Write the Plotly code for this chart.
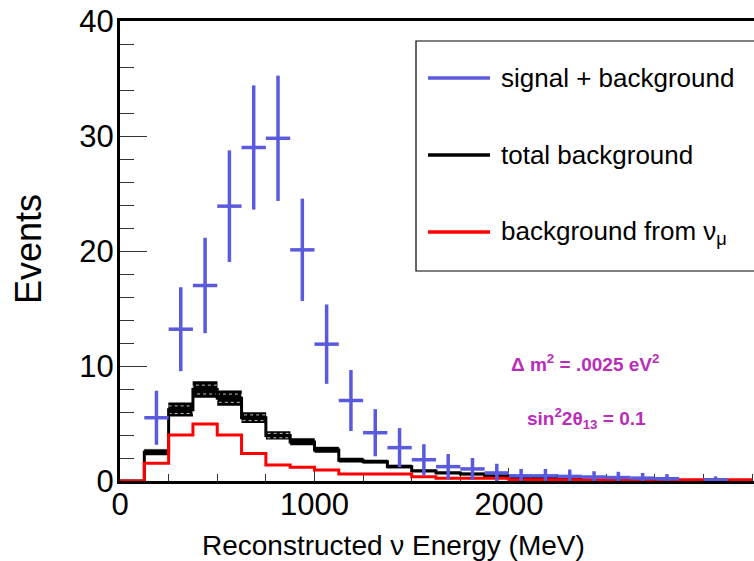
import plotly.graph_objects as go

# ---- data ----
bin_edges = [0, 125, 250, 375, 500, 625, 750, 875, 1000, 1125, 1250, 1375, 1500,
             1625, 1750, 1875, 2000, 2125, 2250, 2375, 2500, 2625, 2750, 2875,
             3000, 3125, 3250]

total_bg = [0, 2.5, 6.2, 7.95, 7.2, 5.5, 3.95, 3.4, 2.7, 1.8, 1.68, 1.25, 0.88,
            0.7, 0.6, 0.45, 0.3, 0.25, 0.15, 0, 0, 0, 0, 0, 0, 0]
total_bg_err = [0, 0.25, 0.6, 0.7, 0.65, 0.45, 0.35, 0.3, 0.25, 0.2, 0.15, 0.15,
                0.1, 0.1, 0.1, 0.05, 0.05, 0.05, 0.05, 0, 0, 0, 0, 0, 0, 0]
numu_bg = [0, 1.55, 4.0, 4.95, 4.0, 2.4, 1.4, 1.2, 0.95, 0.6, 0.6, 0.6, 0.37,
           0.25, 0.25, 0.25, 0.1, 0.1, 0.1, 0.1, 0.1, 0.1, 0.1, 0.1, 0.1, 0.1]

sig_centers = [187.5, 312.5, 437.5, 562.5, 687.5, 812.5, 937.5, 1062.5, 1187.5,
               1312.5, 1437.5, 1562.5, 1687.5, 1812.5, 1937.5, 2062.5, 2187.5,
               2312.5, 2437.5, 2562.5, 2687.5, 2812.5, 3062.5]
sig_values = [5.5, 13.2, 17.0, 23.9, 29.0, 29.8, 20.1, 11.9, 7.0, 4.2, 2.9, 1.85,
              1.25, 1.05, 0.7, 0.45, 0.45, 0.4, 0.35, 0.3, 0.25, 0.2, 0.1]
sig_errors = [2.35, 3.65, 4.15, 4.85, 5.4, 5.45, 4.45, 3.45, 2.65, 2.05, 1.7, 1.35,
              1.1, 0.95, 0.8, 0.6, 0.6, 0.6, 0.5, 0.5, 0.45, 0.4, 0.3]
sig_halfwidth = [62.5] * len(sig_centers)

x_tick_vals = [0, 1000, 2000]
x_tick_text = ["0", "1000", "2000"]

legend_labels = ["signal + background", "total background",
                 "background from ν<sub>μ</sub>"]
ann_dm2 = "<b>Δ m<sup>2</sup> = .0025 eV<sup>2</sup></b>"
ann_sin = "<b>sin<sup>2</sup>2θ<sub>13</sub> = 0.1</b>"

BLUE = "rgb(90,90,222)"
RED = "rgb(255,0,0)"
MAGENTA = "rgb(185,45,185)"
FONT = "Liberation Sans, Arial, Helvetica, sans-serif"

W, H = 754, 561
ML, MR, MT, MB = 120, 0, 21, 80
PW, PH = W - ML - MR, H - MT - MB


def px(x):
    return (x - ML) / PW


def py(y):
    return (H - MB - y) / PH


def step_y(vals):
    return list(vals) + [vals[-1]]


upper = [v + e for v, e in zip(total_bg, total_bg_err)]
lower = [v - e for v, e in zip(total_bg, total_bg_err)]
hatch_hi = [v + 0.55 * e if e >= 0.3 else None for v, e in zip(total_bg, total_bg_err)]
hatch_lo = [v - 0.55 * e if e >= 0.3 else None for v, e in zip(total_bg, total_bg_err)]

fig = go.Figure()
fig.add_trace(go.Scatter(x=bin_edges, y=step_y(lower), mode="lines",
                         line=dict(width=0, shape="hv", color="black"),
                         showlegend=False, hoverinfo="skip"))
fig.add_trace(go.Scatter(x=bin_edges, y=step_y(upper), mode="lines",
                         line=dict(width=0.5, shape="hv", color="black"),
                         fill="tonexty", fillcolor="black",
                         showlegend=False, hoverinfo="skip"))
for hy in (hatch_hi, hatch_lo):
    fig.add_trace(go.Scatter(x=bin_edges, y=step_y(hy), mode="lines",
                             line=dict(width=1, shape="hv", color="rgba(255,255,255,0.75)",
                                       dash="dot"),
                             connectgaps=False, showlegend=False, hoverinfo="skip"))
fig.add_trace(go.Scatter(x=bin_edges, y=step_y(total_bg), mode="lines",
                         line=dict(width=3, shape="hv", color="black"),
                         name="total background", showlegend=False))
fig.add_trace(go.Scatter(x=bin_edges, y=step_y(numu_bg), mode="lines",
                         line=dict(width=3, shape="hv", color=RED),
                         name="background from numu", showlegend=False))
fig.add_trace(go.Scatter(x=sig_centers, y=sig_values, mode="markers",
                         marker=dict(size=1, color=BLUE),
                         error_x=dict(type="data", array=sig_halfwidth, width=0,
                                      thickness=3.5, color=BLUE),
                         error_y=dict(type="data", array=sig_errors, width=0,
                                      thickness=3.5, color=BLUE),
                         name="signal + background", showlegend=False))

shapes = []
annotations = []
# legend box
shapes.append(dict(type="rect", xref="paper", yref="paper",
                   x0=px(416), x1=px(760), y0=py(271), y1=py(41),
                   line=dict(color="black", width=1.2), fillcolor="rgba(0,0,0,0)"))
leg_colors = [BLUE, "black", RED]
leg_y = [78, 155, 232]
for lab, col, yy in zip(legend_labels, leg_colors, leg_y):
    shapes.append(dict(type="line", xref="paper", yref="paper",
                       x0=px(428), x1=px(490), y0=py(yy), y1=py(yy),
                       line=dict(color=col, width=3.5)))
    annotations.append(dict(xref="paper", yref="paper", x=px(499), y=py(yy),
                            xanchor="left", yanchor="middle", showarrow=False,
                            text=lab, font=dict(size=26, color="black", family=FONT)))

annotations.append(dict(xref="paper", yref="paper", x=px(585), y=py(363),
                        showarrow=False, text=ann_dm2, xanchor="center", yanchor="middle",
                        font=dict(size=19, color=MAGENTA, family=FONT)))
annotations.append(dict(xref="paper", yref="paper", x=px(586), y=py(418),
                        showarrow=False, text=ann_sin, xanchor="center", yanchor="middle",
                        font=dict(size=19, color=MAGENTA, family=FONT)))
annotations.append(dict(xref="paper", yref="paper", x=px(28), y=py(249),
                        showarrow=False, text="Events", textangle=-90,
                        xanchor="center", yanchor="middle",
                        font=dict(size=36, color="black", family=FONT)))
annotations.append(dict(xref="paper", yref="paper", x=px(393), y=py(545),
                        showarrow=False, text="Reconstructed ν Energy (MeV)",
                        xanchor="center", yanchor="middle",
                        font=dict(size=28, color="black", family=FONT)))

fig.update_layout(
    width=W, height=H,
    margin=dict(l=ML, r=MR, t=MT, b=MB, pad=0),
    paper_bgcolor="white", plot_bgcolor="white",
    showlegend=False,
    shapes=shapes, annotations=annotations,
    font=dict(family=FONT, color="black"),
)
fig.update_xaxes(range=[0, 3260], showgrid=False, zeroline=False,
                 showline=True, linecolor="black", linewidth=3, mirror=True,
                 ticks="inside", tickmode="array", tickvals=x_tick_vals,
                 ticktext=x_tick_text,
                 ticklen=13, tickwidth=1.2, tickcolor="#333",
                 minor=dict(ticks="inside", tick0=0, dtick=250, ticklen=7, tickwidth=1.2,
                            tickcolor="#333", showgrid=False),
                 tickfont=dict(size=31, color="black", family=FONT),
                 ticklabelstandoff=-6,
                 layer="below traces")
fig.update_yaxes(range=[0, 40], showgrid=False, zeroline=False,
                 showline=True, linecolor="black", linewidth=3, mirror=False,
                 ticks="inside", tickmode="linear", tick0=0, dtick=10,
                 ticklen=27, tickwidth=1.2, tickcolor="#333",
                 minor=dict(ticks="inside", dtick=2, ticklen=14, tickwidth=1.2,
                            tickcolor="#333", showgrid=False),
                 tickfont=dict(size=31, color="black", family=FONT),
                 ticklabelstandoff=-3,
                 layer="below traces")

fig.write_html("out.html")
